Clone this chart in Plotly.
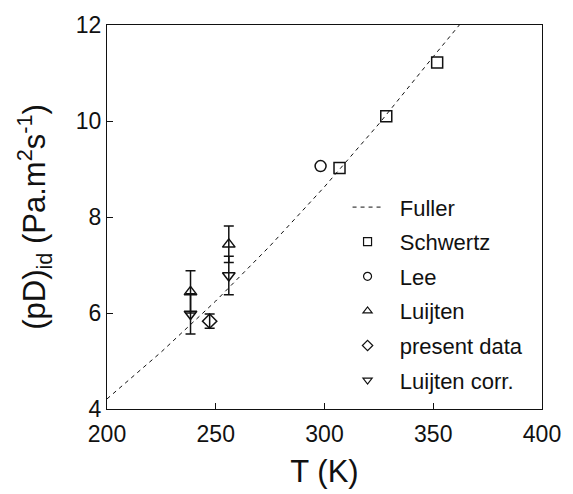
import plotly.graph_objects as go

# Fuller correlation
fuller_T = [200, 225, 250, 275, 300, 325, 350, 362]
fuller_v = [4.21, 5.19, 6.25, 7.40, 8.63, 9.94, 11.34, 12.0]

schwertz_T = [306.9, 328.4, 351.8]
schwertz_v = [9.02, 10.1, 11.22]

lee_T = [298.2]
lee_v = [9.06]

luijten_T = [238.4, 256.0]
luijten_v = [6.44, 7.43]
luijten_err = [0.44, 0.38]

present_T = [247.2]
present_v = [5.83]
present_err = [0.15]

corr_T = [238.4, 256.0]
corr_v = [5.98, 6.78]
corr_err = [0.42, 0.40]

FONT = "Liberation Sans, Arial, Helvetica, sans-serif"
BLACK = "#111111"
PAD = "\u00a0\u00a0"

fig = go.Figure()

fig.add_trace(go.Scatter(x=fuller_T, y=fuller_v, mode="lines", name=PAD + "Fuller",
                         line=dict(color=BLACK, width=1, dash="4px,4px"),
                         legendgroup="a"))

def pts(x, y, sym, name, grp, err=None):
    kw = {}
    if err is not None:
        kw["error_y"] = dict(type="data", array=err, visible=True,
                             color=BLACK, thickness=1.5, width=5)
    fig.add_trace(go.Scatter(x=x, y=y, mode="markers", name=name, showlegend=False,
                             marker=dict(symbol=sym, size=11, color=BLACK,
                                         line=dict(color=BLACK, width=1.5)), **kw))
    fig.add_trace(go.Scatter(x=[None], y=[None], mode="markers", name=PAD + name,
                             legendgroup=grp,
                             marker=dict(symbol=sym, size=8, color=BLACK,
                                         line=dict(color=BLACK, width=1.2))))

pts(schwertz_T, schwertz_v, "square-open", "Schwertz", "b")
pts(lee_T, lee_v, "circle-open", "Lee", "c")
pts(luijten_T, luijten_v, "triangle-up-open", "Luijten", "d", luijten_err)
pts(present_T, present_v, "diamond-open", "present data", "e", present_err)
pts(corr_T, corr_v, "triangle-down-open", "Luijten corr.", "f", corr_err)

axis_common = dict(showline=True, linecolor=BLACK, linewidth=1, mirror=True,
                   ticks="inside", ticklen=6, tickcolor=BLACK, tickwidth=1,
                   showgrid=False, zeroline=False,
                   tickfont=dict(family=FONT, size=23, color=BLACK))

fig.update_layout(
    width=573, height=494,
    margin=dict(l=107, r=30, t=19, b=82),
    paper_bgcolor="white", plot_bgcolor="white",
    showlegend=True,
    legend=dict(x=0.553, y=0.30, xanchor="left", yanchor="middle",
                bgcolor="rgba(0,0,0,0)", borderwidth=0,
                font=dict(family=FONT, size=22, color=BLACK),
                traceorder="grouped", tracegroupgap=3),
    xaxis=dict(range=[200, 400], tickvals=[200, 250, 300, 350, 400],
               ticklabelstandoff=4,
               title=dict(text="T (K)", font=dict(family=FONT, size=31, color=BLACK),
                          standoff=14),
               **axis_common),
    yaxis=dict(range=[4, 12], tickvals=[4, 6, 8, 10, 12],
               title=dict(text="(pD)<sub>id</sub> (Pa.m<sup>2</sup>s<sup>-1</sup>)",
                          font=dict(family=FONT, size=31, color=BLACK), standoff=20),
               **axis_common),
)

fig.write_html("out.html")
